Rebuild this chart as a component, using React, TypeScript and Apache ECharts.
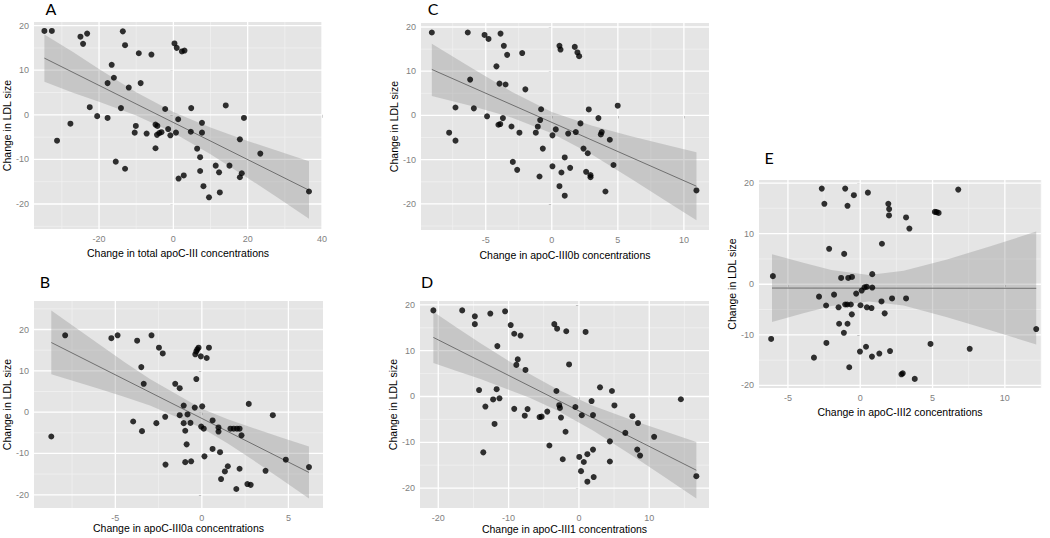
import React, { useEffect, useRef } from "react";
import * as echarts from "echarts";

type P = [number, number];

// ---------- Panel A: total apoC-III ----------
const aPoints: P[] = [
  [-34.7, 18.8], [-32.7, 18.8], [-25.0, 17.5], [-23.2, 18.2], [-24.3, 15.9], [-13.6, 18.7], [-13.0, 15.6],
  [-9.3, 13.8], [-5.9, 13.5], [0.3, 16.0], [0.9, 15.0], [2.3, 14.2], [3.0, 14.4], [-16.6, 11.2], [-16.0, 8.3],
  [-17.7, 7.1], [-12.0, 6.1], [-8.8, 7.1], [-22.5, 1.7], [-20.5, -0.3], [-27.7, -2.0], [-31.3, -5.8],
  [-17.7, -0.7], [-14.1, 1.5], [-10.1, -2.5], [-10.4, -4.0], [-7.2, -4.2], [-4.8, -2.2], [-4.3, -2.5],
  [-4.4, -4.5], [-3.8, -4.1], [-3.2, -3.9], [-2.2, 1.3], [-1.4, -3.2], [-0.8, -4.6], [0.7, -4.0], [1.3, -1.0],
  [-4.8, -7.5], [-15.5, -10.5], [-13.0, -12.1], [1.4, -14.3], [2.8, -13.6], [4.7, -3.8], [4.8, 1.5],
  [6.4, -7.6], [7.2, -9.5], [7.7, -1.8], [7.7, -4.0], [7.2, -12.6], [8.1, -16.0], [9.6, -18.5], [12.5, -17.4],
  [12.3, -12.9], [11.4, -11.4], [15.1, -11.4], [14.1, 2.1], [19.0, -0.7], [17.9, -5.5], [17.9, -14.0],
  [18.4, -13.1], [23.4, -8.7], [36.5, -17.2],
];
const aLine: P[] = [[-34.7, 12.7], [36.5, -16.9]];
const aBandX = [-34.7, -27, -20, -10, 0, 10, 20, 28, 36.5];
const aBandLo = [7.4, 4.95, 2.95, -0.17, -4.0, -8.85, -14.15, -18.55, -23.3];
const aBandHi = [18.0, 14.05, 10.25, 5.07, 0.6, -2.85, -5.85, -8.05, -10.4];
const aXTicks = [-20, 0, 20, 40];
const aXMinor = [-30, -10, 10, 30];
const aYTicks = [-20, -10, 0, 10, 20];
const aYMinor = [-25, -15, -5, 5, 15];

// ---------- Panel B: apoC-III0a ----------
const bPoints: P[] = [
  [-8.7, -5.9], [-7.9, 18.6], [-5.23, 17.9], [-4.87, 18.6], [-3.74, 17.3], [-2.91, 18.6], [-2.48, 15.6],
  [-3.5, 10.9], [-3.36, 6.85], [-2.26, 14.2], [-1.54, 6.85], [-1.28, 5.8], [-3.97, -2.26], [-3.46, -4.6],
  [-2.63, -2.66], [-2.12, -1.13], [-2.1, -12.7], [-1.28, -0.73], [-1.05, 1.6], [-1.05, -2.66], [-0.96, -4.5],
  [-0.88, -7.8], [-0.96, -12.1], [-0.83, -0.56], [-0.66, -2.6], [-0.62, -11.9], [-0.41, 1.1], [-0.38, 14.0],
  [-0.32, 8.0], [-0.26, 15.2], [-0.19, 15.6], [-0.32, 14.7], [-0.06, 13.5], [0.28, 13.1], [0.41, 15.6],
  [0.02, 1.4], [-0.04, -3.5], [0.11, -4.0], [0.15, -10.7], [0.62, -2.0], [0.62, -8.9], [0.96, -3.7],
  [0.96, -4.7], [1.05, -9.7], [1.11, -16.2], [1.33, -14.35], [1.5, -13.1], [1.65, -4.0], [1.84, -4.0],
  [2.03, -4.0], [2.18, -4.0], [2.29, -5.6], [2.18, -13.7], [1.99, -18.6], [2.71, 2.0], [2.63, -17.4],
  [2.82, -17.6], [3.68, -14.2], [4.1, -0.73], [4.85, -11.5], [6.19, -13.3],
];
const bLine: P[] = [[-8.7, 16.85], [6.19, -14.6]];
const bBandX = [-8.7, -6, -4.5, -3, 0, 1.5, 3, 4.5, 6.19];
const bBandLo = [9.2, 5.7, 3.7, 1.6, -3.85, -7.6, -11.7, -16.0, -20.9];
const bBandHi = [24.6, 16.6, 12.2, 8.0, 0.85, -1.75, -3.9, -6.0, -8.3];
const bXTicks = [-5, 0, 5];
const bXMinor = [-7.5, -2.5, 2.5];
const bYTicks = [-20, -10, 0, 10, 20];
const bYMinor = [-15, -5, 5, 15, 25];

// ---------- Panel C: apoC-III0b ----------
const cPoints: P[] = [
  [-9.08, 18.75], [-6.36, 18.75], [-5.09, 18.2], [-4.79, 17.3], [-3.88, 18.5], [-3.63, 15.75], [-3.38, 13.7],
  [-2.24, 14.1], [-4.19, 11.1], [-6.18, 8.1], [-3.96, 7.2], [-3.5, 7.0], [-2.0, 5.9], [-7.29, 1.8],
  [-5.9, 1.6], [-4.9, -0.2], [-3.7, -0.6], [-4.04, -2.1], [-3.9, -1.95], [-7.77, -3.9], [-7.29, -5.7],
  [-3.05, -2.5], [-2.45, -3.9], [-2.95, -10.5], [-2.62, -12.3], [-1.21, -3.9], [-1.06, -2.55], [-0.88, -1.05],
  [-0.81, 1.4], [-0.68, -7.5], [-0.93, -13.8], [0.05, -4.5], [0.3, -3.15], [0.05, -11.5], [0.58, 15.75],
  [0.66, 14.9], [0.58, -16.0], [0.73, -12.9], [0.98, -9.5], [0.98, -18.15], [1.24, -4.1], [1.39, -11.85],
  [1.74, 15.5], [1.94, 14.25], [2.07, 13.4], [1.82, -3.75], [2.17, -1.8], [2.4, -7.5], [2.6, -12.75],
  [2.72, -8.55], [2.8, 1.35], [2.93, -13.5], [2.93, -13.95], [3.53, -0.6], [3.71, -4.3], [3.78, -3.75],
  [4.39, -5.5], [4.67, -11.2], [4.06, -17.2], [4.99, 2.2], [10.95, -16.95],
];
const cLine: P[] = [[-9.08, 10.4], [10.95, -16.0]];
const cBandX = [-9.08, -6, -3, 0, 3, 6, 9, 10.95];
const cBandLo = [4.4, 2.1, -0.5, -4.0, -8.8, -14.3, -20.0, -23.7];
const cBandHi = [16.2, 10.6, 5.3, 0.8, -2.3, -4.7, -6.9, -8.3];
const cXTicks = [-5, 0, 5, 10];
const cXMinor = [-7.5, -2.5, 2.5, 7.5];
const cYTicks = [-20, -10, 0, 10, 20];
const cYMinor = [-25, -15, -5, 5, 15];

// ---------- Panel D: apoC-III1 ----------
const dPoints: P[] = [
  [-20.7, 18.8], [-16.6, 18.8], [-14.8, 17.5], [-14.8, 15.8], [-12.6, 18.1], [-10.5, 18.6], [-9.7, 15.6],
  [-9.2, 13.7], [-8.3, 13.3], [-11.6, 11.0], [-8.7, 8.1], [-8.9, 6.9], [-7.6, 5.8], [-14.2, 1.4],
  [-13.3, -2.2], [-12.2, -0.65], [-11.7, 1.6], [-11.3, -0.4], [-12.0, -6.0], [-13.6, -12.2], [-9.2, -2.7],
  [-7.3, -2.75], [-7.7, -4.2], [-5.6, -4.5], [-5.3, -4.4], [-4.5, -3.3], [-4.2, -10.7], [-3.5, 15.8],
  [-3.1, 14.8], [-1.8, 14.25], [-3.2, 1.2], [-2.8, -1.9], [-2.7, -2.5], [-2.55, -4.6], [-2.3, -13.7],
  [-1.9, -7.7], [-1.4, 7.0], [-0.5, -2.3], [0.4, -4.1], [0.05, -13.2], [0.3, -16.3], [0.7, -14.3],
  [0.95, 14.1], [1.2, -12.6], [1.2, -18.6], [1.8, -1.0], [2.0, -4.05], [2.0, -11.6], [2.1, -17.6],
  [3.0, 2.0], [4.7, 1.2], [5.05, -1.95], [4.4, -9.8], [4.4, -14.2], [6.6, -7.95], [7.6, -4.3],
  [8.4, -5.8], [8.3, -11.6], [8.7, -12.9], [10.7, -8.8], [14.5, -0.6], [16.7, -17.4],
];
const dLine: P[] = [[-20.7, 12.9], [16.7, -16.1]];
const dBandX = [-20.7, -17.5, -14, -7, -3, 2, 8, 12, 16.7];
const dBandLo = [7.3, 5.6, 3.8, -0.3, -3.1, -7.4, -13.3, -17.4, -22.25];
const dBandHi = [18.5, 15.2, 11.6, 4.9, 1.5, -2.0, -5.4, -7.5, -9.95];
const dXTicks = [-20, -10, 0, 10];
const dXMinor = [-15, -5, 5, 15];
const dYTicks = [-20, -10, 0, 10, 20];
const dYMinor = [-15, -5, 5, 15];

// ---------- Panel E: apoC-III2 ----------
const ePoints: P[] = [
  [-6.04, 1.6], [-2.15, 7.0], [-1.11, 6.0], [1.5, 8.0], [3.4, 11.0], [-1.32, 1.25], [-0.83, 1.25],
  [-0.57, 1.45], [0.83, 2.0], [-2.85, -2.45], [-1.81, -2.05], [-2.36, -4.2], [-1.5, -4.55], [-1.04, -4.0],
  [-0.9, -4.0], [-0.65, -4.0], [-0.28, -1.85], [0.1, -1.25], [0.3, -0.6], [0.45, -0.5], [0.83, -0.65],
  [0.02, -4.15], [0.46, -4.55], [0.78, -4.7], [1.47, -3.4], [2.2, -2.8], [3.17, -2.8], [-0.58, -5.95],
  [1.69, -5.75], [-1.46, -7.8], [-0.88, -7.8], [-6.16, -10.8], [-3.2, -14.5], [-2.66, 18.9], [-2.48, 15.9],
  [-1.04, 18.9], [-0.44, 17.6], [-0.88, 15.5], [0.53, 18.1], [1.94, 15.9], [2.0, 14.85], [1.99, 13.6],
  [3.17, 13.2], [5.16, 14.3], [5.28, 14.25], [5.42, 14.1], [6.78, 18.7], [-2.34, -11.6], [-1.13, -9.6],
  [-0.76, -16.4], [-0.02, -13.3], [0.4, -12.35], [0.81, -14.3], [1.32, -13.7], [2.06, -13.2],
  [2.85, -17.8], [2.94, -17.6], [3.77, -18.7], [4.86, -11.8], [7.57, -12.75], [12.17, -8.85],
];
const eLine: P[] = [[-6.1, -0.75], [12.17, -0.8]];
const eBandX = [-6.1, -4, -2, 0.6, 3, 6, 9, 12.17];
const eBandLo = [-7.45, -5.8, -4.3, -3.4, -4.2, -6.5, -9.1, -11.9];
const eBandHi = [5.95, 4.3, 2.8, 1.85, 2.65, 4.9, 7.5, 10.4];
const eXTicks = [-5, 0, 5, 10];
const eXMinor = [-2.5, 2.5, 7.5, 12.5];
const eYTicks = [-20, -10, 0, 10, 20];
const eYMinor = [-15, -5, 5, 15];

const yTitle = "Change in LDL size";

const FONT = "Liberation Sans, Arial, sans-serif";
const TICK_COLOR = "#7f7f7f";

interface Panel {
  letter: string;
  letterPos: [number, number];
  xName: string;
  grid: { left: number; top: number; width: number; height: number };
  xRange: [number, number];
  yRange: [number, number];
  xNameGap: number;
  yNameGap: number;
  points: P[];
  line: P[];
  bandX: number[];
  bandLo: number[];
  bandHi: number[];
  xTicks: number[];
  xMinor: number[];
  yTicks: number[];
  yMinor: number[];
}

const panels: Panel[] = [
  {
    letter: "A", letterPos: [51, 0], xName: "Change in total apoC-III concentrations",
    grid: { left: 33, top: 22, width: 289, height: 207 }, xRange: [-37.5, 40], yRange: [-25.6, 20.8],
    xNameGap: 18, yNameGap: 22, points: aPoints, line: aLine, bandX: aBandX, bandLo: aBandLo, bandHi: aBandHi,
    xTicks: aXTicks, xMinor: aXMinor, yTicks: aYTicks, yMinor: aYMinor,
  },
  {
    letter: "B", letterPos: [45, 273], xName: "Change in apoC-III0a concentrations",
    grid: { left: 33, top: 301, width: 290, height: 207 }, xRange: [-9.7, 7.0], yRange: [-23.2, 26.9],
    xNameGap: 14, yNameGap: 22, points: bPoints, line: bLine, bandX: bBandX, bandLo: bBandLo, bandHi: bBandHi,
    xTicks: bXTicks, xMinor: bXMinor, yTicks: bYTicks, yMinor: bYMinor,
  },
  {
    letter: "C", letterPos: [433, 0], xName: "Change in apoC-III0b concentrations",
    grid: { left: 421, top: 23, width: 288, height: 207 }, xRange: [-9.9, 11.9], yRange: [-25.9, 20.9],
    xNameGap: 19, yNameGap: 21, points: cPoints, line: cLine, bandX: cBandX, bandLo: cBandLo, bandHi: cBandHi,
    xTicks: cXTicks, xMinor: cXMinor, yTicks: cYTicks, yMinor: cYMinor,
  },
  {
    letter: "D", letterPos: [427, 273], xName: "Change in apoC-III1 concentrations",
    grid: { left: 420, top: 301, width: 289, height: 207 }, xRange: [-22.6, 18.5], yRange: [-24.35, 20.85],
    xNameGap: 15, yNameGap: 20, points: dPoints, line: dLine, bandX: dBandX, bandLo: dBandLo, bandHi: dBandHi,
    xTicks: dXTicks, xMinor: dXMinor, yTicks: dYTicks, yMinor: dYMinor,
  },
  {
    letter: "E", letterPos: [769, 149], xName: "Change in apoC-III2 concentrations",
    grid: { left: 759, top: 180, width: 282, height: 208 }, xRange: [-7.0, 12.5], yRange: [-20.5, 20.6],
    xNameGap: 18, yNameGap: 20, points: ePoints, line: eLine, bandX: eBandX, bandLo: eBandLo, bandHi: eBandHi,
    xTicks: eXTicks, xMinor: eXMinor, yTicks: eYTicks, yMinor: eYMinor,
  },
];

function buildOption() {
  const grid: any[] = [];
  const xAxis: any[] = [];
  const yAxis: any[] = [];
  const series: any[] = [];
  const graphic: any[] = [];

  panels.forEach((p, i) => {
    grid.push({
      ...p.grid,
      show: true,
      backgroundColor: "#e5e5e5",
      borderWidth: 0,
      containLabel: false,
    });
    const common = {
      type: "value",
      gridIndex: i,
      axisLine: { show: false },
      splitLine: { show: false },
      nameLocation: "middle",
      nameTextStyle: { color: "#000", fontSize: 10.5, fontFamily: FONT },
    };
    xAxis.push({
      ...common,
      min: p.xRange[0],
      max: p.xRange[1],
      name: p.xName,
      nameGap: p.xNameGap,
      axisTick: { show: true, customValues: p.xTicks, length: 3, lineStyle: { color: TICK_COLOR, width: 1 } },
      axisLabel: { customValues: p.xTicks, color: TICK_COLOR, fontSize: 9, margin: 5, fontFamily: FONT },
    });
    yAxis.push({
      ...common,
      min: p.yRange[0],
      max: p.yRange[1],
      name: yTitle,
      nameGap: p.yNameGap,
      axisTick: { show: true, customValues: p.yTicks, length: 3, lineStyle: { color: TICK_COLOR, width: 1 } },
      axisLabel: { customValues: p.yTicks, color: TICK_COLOR, fontSize: 9, margin: 5, fontFamily: FONT },
    });

    // grid lines (minor + major) drawn through the axis scales
    series.push({
      type: "custom",
      xAxisIndex: i,
      yAxisIndex: i,
      z: 1,
      silent: true,
      data: [[0, 0]],
      renderItem: (params: any, api: any) => {
        const cs = params.coordSys;
        const children: any[] = [];
        const vLine = (v: number, stroke: string, w: number) => {
          const px = api.coord([v, 0])[0];
          children.push({
            type: "line",
            shape: { x1: px, y1: cs.y, x2: px, y2: cs.y + cs.height },
            style: { stroke, lineWidth: w },
          });
        };
        const hLine = (v: number, stroke: string, w: number) => {
          const py = api.coord([0, v])[1];
          children.push({
            type: "line",
            shape: { x1: cs.x, y1: py, x2: cs.x + cs.width, y2: py },
            style: { stroke, lineWidth: w },
          });
        };
        p.xMinor.forEach((v) => vLine(v, "#f2f2f2", 0.7));
        p.yMinor.forEach((v) => hLine(v, "#f2f2f2", 0.7));
        p.xTicks.forEach((v) => vLine(v, "#ffffff", 1.3));
        p.yTicks.forEach((v) => hLine(v, "#ffffff", 1.3));
        return { type: "group", children };
      },
    });

    // confidence band
    series.push({
      type: "custom",
      xAxisIndex: i,
      yAxisIndex: i,
      z: 2,
      silent: true,
      data: [[0, 0]],
      renderItem: (_params: any, api: any) => {
        const pts: number[][] = [];
        p.bandX.forEach((x, k) => pts.push(api.coord([x, p.bandHi[k]])));
        for (let k = p.bandX.length - 1; k >= 0; k--) pts.push(api.coord([p.bandX[k], p.bandLo[k]]));
        return {
          type: "polygon",
          shape: { points: pts },
          style: { fill: "rgba(153,153,153,0.4)", stroke: "none" },
        };
      },
    });

    // regression line
    series.push({
      type: "line",
      xAxisIndex: i,
      yAxisIndex: i,
      z: 3,
      silent: true,
      data: p.line,
      symbol: "none",
      showSymbol: false,
      lineStyle: { color: "#6f6f6f", width: 1 },
    });

    // points
    series.push({
      type: "scatter",
      xAxisIndex: i,
      yAxisIndex: i,
      z: 4,
      silent: true,
      data: p.points,
      symbol: "circle",
      symbolSize: 6,
      itemStyle: { color: "#000" },
    });

    graphic.push({
      type: "text",
      x: p.letterPos[0],
      y: p.letterPos[1],
      style: {
        text: p.letter,
        fill: "#000",
        font: "16px Lato, 'Liberation Sans', sans-serif",
        textAlign: "center",
        textVerticalAlign: "top",
      },
    });
  });

  return {
    animation: false,
    backgroundColor: "#ffffff",
    grid,
    xAxis,
    yAxis,
    series,
    graphic,
  };
}

export default function App() {
  const ref = useRef<HTMLDivElement>(null);
  useEffect(() => {
    if (!ref.current) return;
    const chart = echarts.init(ref.current, undefined, { renderer: "svg" });
    chart.setOption(buildOption() as any);
    return () => chart.dispose();
  }, []);
  return (
    <div
      ref={ref}
      style={{ position: "fixed", left: 0, top: 0, width: 1050, height: 538, background: "#fff" }}
    />
  );
}
